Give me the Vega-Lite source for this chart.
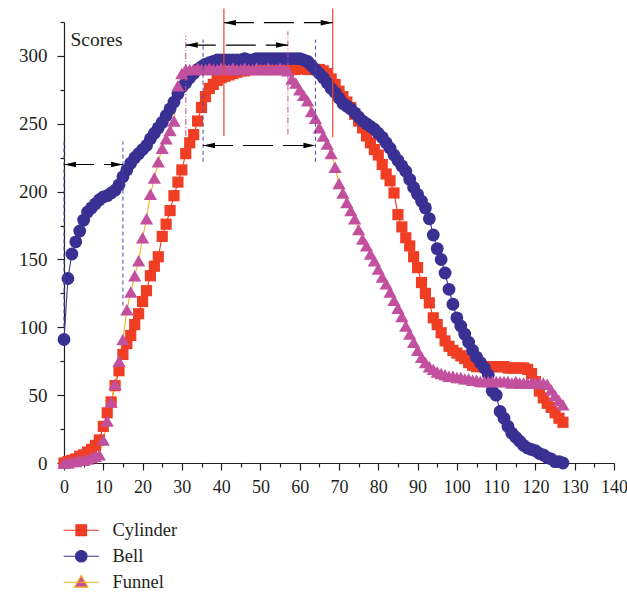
{
  "$schema": "https://vega.github.io/schema/vega-lite/v6.json",
  "width": 550,
  "height": 441,
  "autosize": "none",
  "padding": {"left": 64, "top": 22, "right": 13, "bottom": 133},
  "config": {"view": {"stroke": null}, "font": "Liberation Serif"},
  "resolve": {"axis": {"x": "independent", "y": "independent"}},
  "datasets": {
    "curves": [
      {"x":0,"Cylinder":0,"Bell":91,"Funnel":0},
      {"x":1,"Cylinder":1,"Bell":136,"Funnel":0},
      {"x":2,"Cylinder":2,"Bell":154,"Funnel":1},
      {"x":3,"Cylinder":3,"Bell":163,"Funnel":1},
      {"x":4,"Cylinder":5,"Bell":171,"Funnel":2},
      {"x":5,"Cylinder":6,"Bell":179,"Funnel":2},
      {"x":6,"Cylinder":8,"Bell":185,"Funnel":3},
      {"x":7,"Cylinder":10,"Bell":188,"Funnel":4},
      {"x":8,"Cylinder":13,"Bell":191,"Funnel":5},
      {"x":9,"Cylinder":17,"Bell":194,"Funnel":6},
      {"x":10,"Cylinder":27,"Bell":196,"Funnel":17},
      {"x":11,"Cylinder":37,"Bell":197,"Funnel":31},
      {"x":12,"Cylinder":45,"Bell":199,"Funnel":45},
      {"x":13,"Cylinder":57,"Bell":201,"Funnel":58},
      {"x":14,"Cylinder":68,"Bell":205,"Funnel":75},
      {"x":15,"Cylinder":80,"Bell":211,"Funnel":91},
      {"x":16,"Cylinder":88,"Bell":216,"Funnel":113},
      {"x":17,"Cylinder":94,"Bell":221,"Funnel":126},
      {"x":18,"Cylinder":102,"Bell":225,"Funnel":138},
      {"x":19,"Cylinder":110,"Bell":228,"Funnel":149},
      {"x":20,"Cylinder":119,"Bell":231,"Funnel":166},
      {"x":21,"Cylinder":127,"Bell":234,"Funnel":180},
      {"x":22,"Cylinder":138,"Bell":239,"Funnel":198},
      {"x":23,"Cylinder":145,"Bell":243,"Funnel":210},
      {"x":24,"Cylinder":152,"Bell":247,"Funnel":222},
      {"x":25,"Cylinder":167,"Bell":251,"Funnel":232},
      {"x":26,"Cylinder":176,"Bell":256,"Funnel":239},
      {"x":27,"Cylinder":186,"Bell":261,"Funnel":245},
      {"x":28,"Cylinder":197,"Bell":266,"Funnel":252},
      {"x":29,"Cylinder":207,"Bell":272,"Funnel":278},
      {"x":30,"Cylinder":216,"Bell":277,"Funnel":287},
      {"x":31,"Cylinder":228,"Bell":280,"Funnel":290},
      {"x":32,"Cylinder":236,"Bell":284,"Funnel":290},
      {"x":33,"Cylinder":242,"Bell":287,"Funnel":290},
      {"x":34,"Cylinder":252,"Bell":290,"Funnel":291},
      {"x":35,"Cylinder":262,"Bell":292,"Funnel":290},
      {"x":36,"Cylinder":270,"Bell":294,"Funnel":290},
      {"x":37,"Cylinder":276,"Bell":295,"Funnel":291},
      {"x":38,"Cylinder":279,"Bell":296,"Funnel":290},
      {"x":39,"Cylinder":282,"Bell":297,"Funnel":290},
      {"x":40,"Cylinder":284,"Bell":297,"Funnel":291},
      {"x":41,"Cylinder":285,"Bell":297,"Funnel":290},
      {"x":42,"Cylinder":286,"Bell":297,"Funnel":290},
      {"x":43,"Cylinder":287,"Bell":297,"Funnel":291},
      {"x":44,"Cylinder":288,"Bell":297,"Funnel":290},
      {"x":45,"Cylinder":289,"Bell":297,"Funnel":290},
      {"x":46,"Cylinder":289,"Bell":298,"Funnel":291},
      {"x":47,"Cylinder":290,"Bell":297,"Funnel":290},
      {"x":48,"Cylinder":290,"Bell":297,"Funnel":290},
      {"x":49,"Cylinder":290,"Bell":298,"Funnel":291},
      {"x":50,"Cylinder":290,"Bell":298,"Funnel":290},
      {"x":51,"Cylinder":290,"Bell":298,"Funnel":290},
      {"x":52,"Cylinder":290,"Bell":298,"Funnel":291},
      {"x":53,"Cylinder":290,"Bell":298,"Funnel":290},
      {"x":54,"Cylinder":290,"Bell":298,"Funnel":290},
      {"x":55,"Cylinder":290,"Bell":298,"Funnel":291},
      {"x":56,"Cylinder":290,"Bell":298,"Funnel":290},
      {"x":57,"Cylinder":290,"Bell":298,"Funnel":289},
      {"x":58,"Cylinder":290,"Bell":298,"Funnel":283},
      {"x":59,"Cylinder":290,"Bell":298,"Funnel":280},
      {"x":60,"Cylinder":291,"Bell":298,"Funnel":275},
      {"x":61,"Cylinder":291,"Bell":297,"Funnel":271},
      {"x":62,"Cylinder":290,"Bell":296,"Funnel":267},
      {"x":63,"Cylinder":290,"Bell":293,"Funnel":259},
      {"x":64,"Cylinder":290,"Bell":290,"Funnel":254},
      {"x":65,"Cylinder":290,"Bell":287,"Funnel":247},
      {"x":66,"Cylinder":289,"Bell":284,"Funnel":241},
      {"x":67,"Cylinder":287,"Bell":280,"Funnel":235},
      {"x":68,"Cylinder":283,"Bell":276,"Funnel":228},
      {"x":69,"Cylinder":279,"Bell":273,"Funnel":218},
      {"x":70,"Cylinder":274,"Bell":269,"Funnel":206},
      {"x":71,"Cylinder":270,"Bell":265,"Funnel":199},
      {"x":72,"Cylinder":266,"Bell":263,"Funnel":192},
      {"x":73,"Cylinder":262,"Bell":261,"Funnel":186},
      {"x":74,"Cylinder":257,"Bell":258,"Funnel":180},
      {"x":75,"Cylinder":252,"Bell":255,"Funnel":172},
      {"x":76,"Cylinder":247,"Bell":252,"Funnel":165},
      {"x":77,"Cylinder":241,"Bell":250,"Funnel":160},
      {"x":78,"Cylinder":236,"Bell":248,"Funnel":154},
      {"x":79,"Cylinder":231,"Bell":246,"Funnel":149},
      {"x":80,"Cylinder":227,"Bell":243,"Funnel":143},
      {"x":81,"Cylinder":220,"Bell":240,"Funnel":137},
      {"x":82,"Cylinder":213,"Bell":236,"Funnel":132},
      {"x":83,"Cylinder":208,"Bell":232,"Funnel":126},
      {"x":84,"Cylinder":199,"Bell":227,"Funnel":120},
      {"x":85,"Cylinder":183,"Bell":223,"Funnel":114},
      {"x":86,"Cylinder":174,"Bell":219,"Funnel":108},
      {"x":87,"Cylinder":166,"Bell":215,"Funnel":101},
      {"x":88,"Cylinder":160,"Bell":209,"Funnel":95},
      {"x":89,"Cylinder":152,"Bell":203,"Funnel":89},
      {"x":90,"Cylinder":144,"Bell":198,"Funnel":83},
      {"x":91,"Cylinder":133,"Bell":193,"Funnel":78},
      {"x":92,"Cylinder":125,"Bell":188,"Funnel":74},
      {"x":93,"Cylinder":118,"Bell":180,"Funnel":71},
      {"x":94,"Cylinder":107,"Bell":168,"Funnel":69},
      {"x":95,"Cylinder":102,"Bell":158,"Funnel":67},
      {"x":96,"Cylinder":96,"Bell":150,"Funnel":66},
      {"x":97,"Cylinder":90,"Bell":140,"Funnel":65},
      {"x":98,"Cylinder":86,"Bell":128,"Funnel":64},
      {"x":99,"Cylinder":83,"Bell":117,"Funnel":64},
      {"x":100,"Cylinder":81,"Bell":107,"Funnel":63},
      {"x":101,"Cylinder":79,"Bell":101,"Funnel":63},
      {"x":102,"Cylinder":77,"Bell":95,"Funnel":62},
      {"x":103,"Cylinder":74,"Bell":89,"Funnel":62},
      {"x":104,"Cylinder":72,"Bell":83,"Funnel":61},
      {"x":105,"Cylinder":71,"Bell":78,"Funnel":61},
      {"x":106,"Cylinder":71,"Bell":74,"Funnel":60},
      {"x":107,"Cylinder":71,"Bell":70,"Funnel":60},
      {"x":108,"Cylinder":71,"Bell":65,"Funnel":60},
      {"x":109,"Cylinder":71,"Bell":53,"Funnel":60},
      {"x":110,"Cylinder":71,"Bell":50,"Funnel":60},
      {"x":111,"Cylinder":71,"Bell":38,"Funnel":60},
      {"x":112,"Cylinder":71,"Bell":33,"Funnel":60},
      {"x":113,"Cylinder":70,"Bell":27,"Funnel":60},
      {"x":114,"Cylinder":70,"Bell":22,"Funnel":59},
      {"x":115,"Cylinder":70,"Bell":19,"Funnel":60},
      {"x":116,"Cylinder":70,"Bell":16,"Funnel":59},
      {"x":117,"Cylinder":70,"Bell":13,"Funnel":59},
      {"x":118,"Cylinder":69,"Bell":11,"Funnel":59},
      {"x":119,"Cylinder":66,"Bell":10,"Funnel":59},
      {"x":120,"Cylinder":60,"Bell":9,"Funnel":59},
      {"x":121,"Cylinder":53,"Bell":7,"Funnel":59},
      {"x":122,"Cylinder":48,"Bell":6,"Funnel":59},
      {"x":123,"Cylinder":44,"Bell":4,"Funnel":58},
      {"x":124,"Cylinder":41,"Bell":3,"Funnel":54},
      {"x":125,"Cylinder":37,"Bell":1,"Funnel":50},
      {"x":126,"Cylinder":33,"Bell":1,"Funnel":46},
      {"x":127,"Cylinder":30,"Bell":0,"Funnel":43}
    ],
    "legendItems": [
      {"series": "Cylinder"},
      {"series": "Bell"},
      {"series": "Funnel"}
    ],
    "blueDash": [
      {"x":0,"y":100,"y2":237},
      {"x":15,"y":116,"y2":237},
      {"x":35.4,"y":222,"y2":312},
      {"x":64,"y":222,"y2":312}
    ],
    "magentaDashDot": [
      {"x":31,"y":241,"y2":315},
      {"x":57,"y":242,"y2":318}
    ],
    "redSolid": [
      {"x":40.7,"y":241,"y2":335},
      {"x":68.4,"y":240,"y2":335}
    ],
    "arrows": [
      {"x":0,"x2":15,"y":220},
      {"x":31,"x2":57,"y":308},
      {"x":35.4,"x2":64,"y":234},
      {"x":40.7,"x2":68.4,"y":324.5}
    ]
  },
  "layer": [
    {
      "data": {"name": "curves"},
      "transform": [{"fold": ["Cylinder", "Bell", "Funnel"], "as": ["series", "y"]}, {"filter": "datum.series === 'Cylinder'"}],
      "mark": {"type": "line", "strokeWidth": 1.1, "color": "#ee3524"},
      "encoding": {
        "x": {
          "field": "x", "type": "quantitative",
          "scale": {"domain": [0, 140], "nice": false, "zero": false},
          "axis": {
            "title": null, "orient": "bottom",
            "values": [0,10,20,30,40,50,60,70,80,90,100,110,120,130,140],
            "tickSize": 7,
            "domainColor": "#231f20", "tickColor": "#231f20", "domainWidth": 1.2, "tickWidth": 1.2,
            "labelFont": "Liberation Serif", "labelFontSize": 18, "labelColor": "#231f20",
            "labelPadding": 8, "grid": false, "labelFlush": false, "labelOverlap": false
          }
        },
        "y": {
          "field": "y", "type": "quantitative",
          "scale": {"domain": [0, 325], "nice": false},
          "axis": {
            "title": "Scores", "orient": "left",
            "titleAngle": 0, "titleAlign": "left", "titleBaseline": "alphabetic",
            "titleX": 6, "titleY": 23, "titleFont": "Liberation Serif", "titleFontSize": 19.5,
            "titleFontWeight": "normal", "titleColor": "#231f20",
            "values": [0,50,100,150,200,250,300],
            "tickSize": 7,
            "domainColor": "#231f20", "tickColor": "#231f20", "domainWidth": 1.2, "tickWidth": 1.2,
            "labelFont": "Liberation Serif", "labelFontSize": 19, "labelColor": "#231f20",
            "labelPadding": 10, "grid": false, "labelFlush": false, "labelOverlap": false
          }
        }
      }
    },
    {
      "data": {"name": "curves"},
      "transform": [{"fold": ["Cylinder", "Bell", "Funnel"], "as": ["series", "y"]}, {"filter": "datum.series === 'Bell'"}],
      "mark": {"type": "line", "strokeWidth": 1.1, "color": "#3b3494"},
      "encoding": {
        "x": {
          "field": "x", "type": "quantitative",
          "axis": {
            "title": null, "orient": "bottom", "labels": false, "domain": false,
            "values": [5,15,25,35,45,55,65,75,85,95,105,115,125,135],
            "tickSize": 4, "tickColor": "#231f20", "tickWidth": 1.2, "grid": false
          }
        },
        "y": {
          "field": "y", "type": "quantitative",
          "axis": {
            "title": null, "orient": "left", "labels": false, "domain": false,
            "values": [25,75,125,175,225,275,325],
            "tickSize": 4, "tickColor": "#231f20", "tickWidth": 1.2, "grid": false
          }
        }
      }
    },
    {
      "data": {"name": "curves"},
      "transform": [{"fold": ["Cylinder", "Bell", "Funnel"], "as": ["series", "y"]}, {"filter": "datum.series === 'Funnel'"}],
      "mark": {"type": "line", "strokeWidth": 1.1, "color": "#f9b21b"},
      "encoding": {
        "x": {"field": "x", "type": "quantitative", "axis": null},
        "y": {"field": "y", "type": "quantitative", "axis": null}
      }
    },
    {
      "data": {"name": "curves"},
      "transform": [{"fold": ["Cylinder", "Bell", "Funnel"], "as": ["series", "y"]}, {"filter": "datum.series === 'Cylinder'"}],
      "mark": {"type": "point", "filled": true, "opacity": 1, "size": 125, "shape": "square", "color": "#ef3e23"},
      "encoding": {
        "x": {"field": "x", "type": "quantitative", "axis": null},
        "y": {"field": "y", "type": "quantitative", "axis": null}
      }
    },
    {
      "data": {"name": "curves"},
      "transform": [{"fold": ["Cylinder", "Bell", "Funnel"], "as": ["series", "y"]}, {"filter": "datum.series === 'Bell'"}],
      "mark": {"type": "point", "filled": true, "opacity": 1, "size": 165, "shape": "circle", "color": "#3a3093"},
      "encoding": {
        "x": {"field": "x", "type": "quantitative", "axis": null},
        "y": {"field": "y", "type": "quantitative", "axis": null}
      }
    },
    {
      "data": {"name": "curves"},
      "transform": [{"fold": ["Cylinder", "Bell", "Funnel"], "as": ["series", "y"]}, {"filter": "datum.series === 'Funnel'"}],
      "mark": {"type": "point", "filled": true, "opacity": 1, "size": 175, "shape": "triangle-up", "color": "#c2509e"},
      "encoding": {
        "x": {"field": "x", "type": "quantitative", "axis": null},
        "y": {"field": "y", "type": "quantitative", "axis": null}
      }
    },
    {
      "data": {"name": "legendItems"},
      "mark": {"type": "point", "filled": true, "opacity": 0, "strokeWidth": 1.2},
      "encoding": {
        "fill": {
          "field": "series", "type": "nominal",
          "scale": {"domain": ["Cylinder", "Bell", "Funnel"], "range": ["#ef3e23", "#3a3093", "#c2509e"]},
          "legend": {
            "orient": "none", "legendX": 8, "legendY": 499, "title": null,
            "labelFont": "Liberation Serif", "labelFontSize": 18.5, "labelColor": "#231f20",
            "symbolSize": 256, "rowPadding": 7, "labelOffset": 22, "padding": 0,
            "symbolOpacity": 1, "symbolStrokeWidth": 1.2
          }
        },
        "stroke": {
          "field": "series", "type": "nominal",
          "scale": {"domain": ["Cylinder", "Bell", "Funnel"], "range": ["#ee3524", "#3b3494", "#f9b21b"]},
          "legend": {
            "orient": "none", "legendX": 8, "legendY": 499, "title": null,
            "labelFont": "Liberation Serif", "labelFontSize": 18.5, "labelColor": "#231f20",
            "symbolSize": 256, "rowPadding": 7, "labelOffset": 22, "padding": 0,
            "symbolOpacity": 1, "symbolStrokeWidth": 1.2
          }
        },
        "shape": {
          "field": "series", "type": "nominal",
          "scale": {
            "domain": ["Cylinder", "Bell", "Funnel"],
            "range": [
              "M-2.2,0H2.2M-0.66,-0.66H0.66V0.66H-0.66Z",
              "M-2.2,0H2.2M0.72,0A0.72,0.72,0,1,1,-0.72,0A0.72,0.72,0,1,1,0.72,0Z",
              "M-2.2,0H2.2M0,-0.85L0.85,0.62H-0.85Z"
            ]
          },
          "legend": {
            "orient": "none", "legendX": 8, "legendY": 499, "title": null,
            "labelFont": "Liberation Serif", "labelFontSize": 18.5, "labelColor": "#231f20",
            "symbolSize": 256, "rowPadding": 7, "labelOffset": 22, "padding": 0,
            "symbolOpacity": 1, "symbolStrokeWidth": 1.2
          }
        }
      }
    },
    {
      "data": {"name": "blueDash"},
      "mark": {"type": "rule", "color": "#4a48a8", "strokeWidth": 1, "strokeDash": [4, 3]},
      "encoding": {
        "x": {"field": "x", "type": "quantitative", "axis": null},
        "y": {"field": "y", "type": "quantitative", "axis": null},
        "y2": {"field": "y2"}
      }
    },
    {
      "data": {"name": "magentaDashDot"},
      "mark": {"type": "rule", "color": "#c24fa0", "strokeWidth": 1, "strokeDash": [6, 2, 1, 2]},
      "encoding": {
        "x": {"field": "x", "type": "quantitative", "axis": null},
        "y": {"field": "y", "type": "quantitative", "axis": null},
        "y2": {"field": "y2"}
      }
    },
    {
      "data": {"name": "redSolid"},
      "mark": {"type": "rule", "color": "#f0442c", "strokeWidth": 1.2},
      "encoding": {
        "x": {"field": "x", "type": "quantitative", "axis": null},
        "y": {"field": "y", "type": "quantitative", "axis": null},
        "y2": {"field": "y2"}
      }
    },
    {
      "data": {"name": "arrows"},
      "mark": {"type": "rule", "color": "#000000", "strokeWidth": 1.2, "strokeDash": [30, 10]},
      "encoding": {
        "x": {"field": "x", "type": "quantitative", "axis": null},
        "x2": {"field": "x2"},
        "y": {"field": "y", "type": "quantitative", "axis": null}
      }
    },
    {
      "data": {"name": "arrows"},
      "mark": {"type": "point", "filled": true, "color": "#000000", "opacity": 1, "size": 144, "shape": "M0,0L2,-0.45L2,0.45Z"},
      "encoding": {
        "x": {"field": "x", "type": "quantitative", "axis": null},
        "y": {"field": "y", "type": "quantitative", "axis": null}
      }
    },
    {
      "data": {"name": "arrows"},
      "mark": {"type": "point", "filled": true, "color": "#000000", "opacity": 1, "size": 144, "shape": "M0,0L-2,-0.45L-2,0.45Z"},
      "encoding": {
        "x": {"field": "x2", "type": "quantitative", "axis": null},
        "y": {"field": "y", "type": "quantitative", "axis": null}
      }
    }
  ]
}
